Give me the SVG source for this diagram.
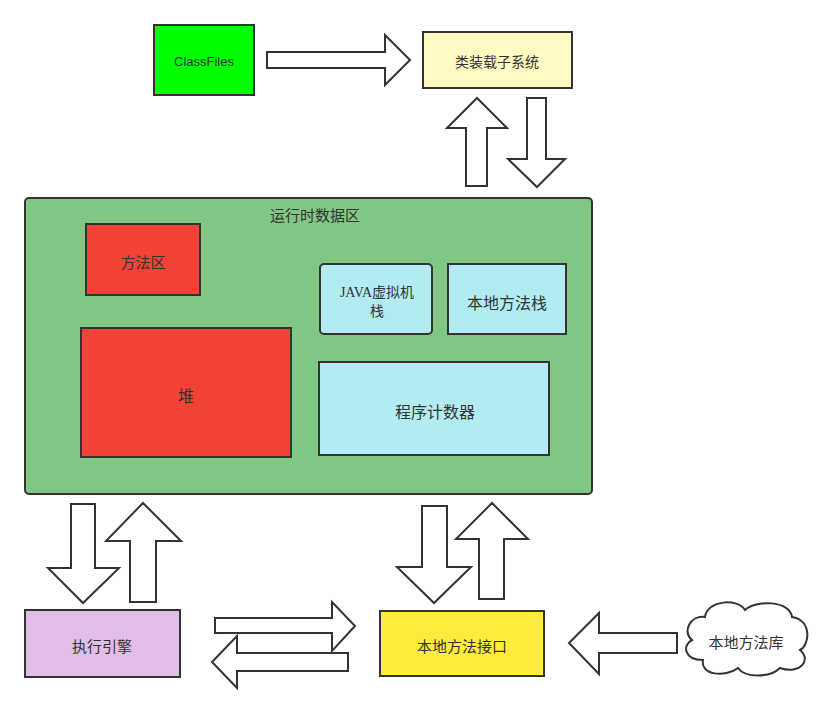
<svg xmlns="http://www.w3.org/2000/svg" width="833" height="711" viewBox="0 0 833 711">
<style>
.box{stroke:#333;stroke-width:2}
.arr{fill:#fff;stroke:#333;stroke-width:2;stroke-linejoin:miter}
text{font-family:"Noto Sans CJK SC","Liberation Sans",sans-serif;fill:#333;text-anchor:middle;dominant-baseline:central}
.t15{font-size:15px}
.t16{font-size:16px}
</style>
<rect width="833" height="711" fill="#fff"/>
<g id="classfiles"><rect class="box" x="154" y="25" width="100" height="70" fill="#00ff00"/><text x="204" y="61" style="font-family:'Liberation Sans','Noto Sans CJK SC',sans-serif;font-size:13px">ClassFiles</text></g>
<g id="loader"><rect class="box" x="423" y="32" width="149" height="56" fill="#fff9c4"/><text x="497" y="61" style="font-size:14px">类装载子系统</text></g>
<g id="runtime"><rect class="box" x="25" y="198" width="567" height="296" rx="4" fill="#81c784"/><text class="t15" x="315" y="214">运行时数据区</text></g>
<g id="method-area"><rect class="box" x="86" y="224" width="114" height="71" fill="#f44336"/><text class="t15" x="143" y="261">方法区</text></g>
<g id="heap"><rect class="box" x="81" y="328" width="210" height="129" fill="#f44336"/><text class="t16" x="186" y="395">堆</text></g>
<g id="jvm-stack"><rect class="box" x="320" y="264" width="112" height="70" rx="4" fill="#b2ebf2"/><text x="377" y="292" style="font-family:'Liberation Serif','Noto Sans CJK SC',serif;font-size:14px">JAVA虚拟机</text><text x="377" y="310" style="font-size:14px">栈</text></g>
<g id="native-stack"><rect class="box" x="448" y="264" width="118" height="70" fill="#b2ebf2"/><text class="t16" x="507" y="302">本地方法栈</text></g>
<g id="pc"><rect class="box" x="319" y="362" width="230" height="93" fill="#b2ebf2"/><text class="t16" x="435" y="411">程序计数器</text></g>
<g id="engine"><rect class="box" x="25" y="610" width="155" height="67" fill="#e1bee7"/><text class="t15" x="102" y="645">执行引擎</text></g>
<g id="native-interface"><rect class="box" x="380" y="611" width="164" height="65" fill="#ffeb3b"/><text class="t15" x="462" y="645">本地方法接口</text></g>
<g id="native-lib"><path class="box" fill="#fff" d="M692,640 C682,632 690,615 705,617 C707,600 738,598 745,610 C755,600 790,600 792,617 C812,620 810,645 800,650 C812,660 800,675 780,668 C770,678 745,678 738,668 C725,678 700,675 703,660 C684,660 682,645 692,640 Z"/><text class="t15" x="746" y="641">本地方法库</text></g>
<g id="connectors">
<polygon class="arr" points="267,52 385,52 385,35 410,60 385,85 385,68 267,68"/>
<polygon class="arr" points="466,186 466,128 447,128 477,98 507,128 487,128 487,186"/>
<polygon class="arr" points="527,98 546,98 546,159 565,159 537,187 508,159 527,159"/>
<polygon class="arr" points="71,504 95,504 95,568 119,568 83,603 48,568 71,568"/>
<polygon class="arr" points="130,602 130,541 106,541 143,503 181,541 156,541 156,602"/>
<polygon class="arr" points="215,618 332,618 332,602 355,626 332,651 332,633 215,633"/>
<polygon class="arr" points="348,653 348,671 237,671 237,688 212,662 237,636 237,653"/>
<polygon class="arr" points="422,506 447,506 447,567 471,567 434,603 397,567 422,567"/>
<polygon class="arr" points="479,599 479,539 456,539 492,503 528,539 504,539 504,599"/>
<polygon class="arr" points="677,633 677,653 599,653 599,674 569,643 599,613 599,633"/>
</g>
</svg>
